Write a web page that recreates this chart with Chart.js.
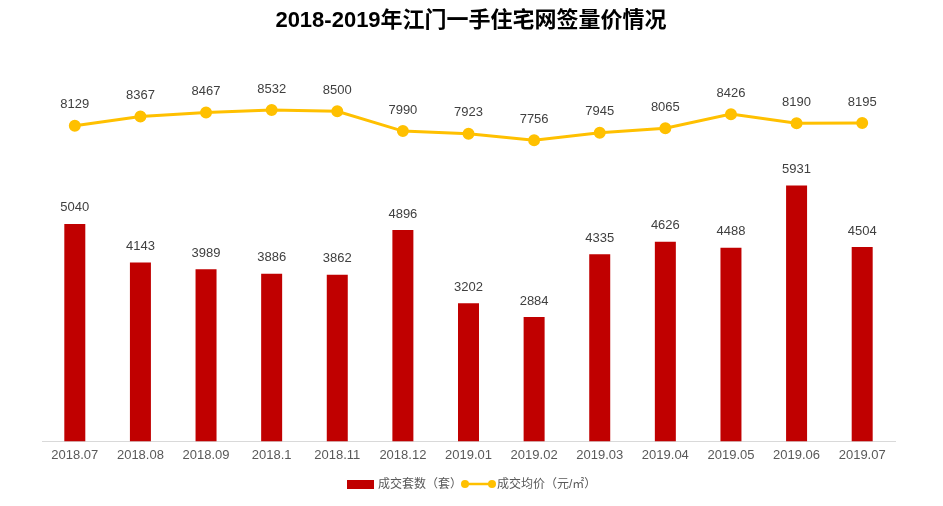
<!DOCTYPE html>
<html>
<head>
<meta charset="utf-8">
<script src="https://cdn.jsdelivr.net/npm/chart.js@4/dist/chart.umd.min.js"></script>
<style>
  html, body { margin: 0; padding: 0; background: #fff; }
  #wrap { width: 943px; height: 506px; }
</style>
</head>
<body>
<div id="wrap"><canvas id="grafico" width="943" height="506"></canvas></div>
<script>
  const meses = ["2018.07", "2018.08", "2018.09", "2018.1", "2018.11", "2018.12", "2019.01", "2019.02", "2019.03", "2019.04", "2019.05", "2019.06", "2019.07"];
  const taoshu = [5040, 4143, 3989, 3886, 3862, 4896, 3202, 2884, 4335, 4626, 4488, 5931, 4504];
  const junjia = [8129, 8367, 8467, 8532, 8500, 7990, 7923, 7756, 7945, 8065, 8426, 8190, 8195];

  const fonteNum = '"Liberation Sans", Arial, sans-serif';
  const fonteCJK = '"Liberation Sans", "Noto Sans CJK SC", sans-serif';

  // rótulos de valor, título e legenda desenhados à mão
  const extras = {
    id: "extras",
    afterDatasetsDraw(chart) {
      const ctx = chart.ctx;
      ctx.save();
      ctx.font = "13px " + fonteNum;
      ctx.fillStyle = "#404040";
      ctx.textAlign = "center";
      ctx.textBaseline = "middle";
      chart.getDatasetMeta(0).data.forEach((el, i) => {
        ctx.fillText(taoshu[i], el.x, el.y - 16);
      });
      chart.getDatasetMeta(1).data.forEach((el, i) => {
        ctx.fillText(junjia[i], el.x, el.y - 21);
      });

      // título
      ctx.font = "bold 22px " + fonteCJK;
      ctx.fillStyle = "#000";
      ctx.fillText("2018-2019年江门一手住宅网签量价情况", 471, 21);

      // legenda
      ctx.fillStyle = "#C00000";
      ctx.fillRect(347, 480, 27, 9);
      ctx.font = "12px " + fonteCJK;
      ctx.fillStyle = "#595959";
      ctx.textAlign = "left";
      ctx.fillText("成交套数（套）", 378, 485);
      ctx.strokeStyle = "#FFC000";
      ctx.lineWidth = 2.5;
      ctx.beginPath();
      ctx.moveTo(465, 484);
      ctx.lineTo(492, 484);
      ctx.stroke();
      ctx.fillStyle = "#FFC000";
      [465, 492].forEach(x => {
        ctx.beginPath();
        ctx.arc(x, 484, 4, 0, Math.PI * 2);
        ctx.fill();
      });
      ctx.fillStyle = "#595959";
      ctx.fillText("成交均价（元/㎡）", 497, 485);
      ctx.restore();
    }
  };

  new Chart(document.getElementById("grafico"), {
    data: {
      labels: meses,
      datasets: [
        {
          type: "bar",
          label: "成交套数（套）",
          data: taoshu,
          backgroundColor: "#C00000",
          barPercentage: 0.32,
          categoryPercentage: 1,
          yAxisID: "y",
          order: 2
        },
        {
          type: "line",
          label: "成交均价（元/㎡）",
          data: junjia,
          borderColor: "#FFC000",
          backgroundColor: "#FFC000",
          borderWidth: 3,
          pointRadius: 4.5,
          pointHoverRadius: 4.5,
          tension: 0,
          yAxisID: "y2",
          order: 1
        }
      ]
    },
    options: {
      responsive: false,
      animation: false,
      layout: { padding: { top: 53, left: 42, right: 48, bottom: 45 } },
      plugins: {
        legend: { display: false },
        title: { display: false },
        tooltip: { enabled: false }
      },
      scales: {
        x: {
          grid: { display: false },
          border: { display: true, color: "#D9D9D9" },
          ticks: {
            color: "#595959",
            font: { family: fonteNum, size: 13 },
            padding: -2,
            maxRotation: 0,
            autoSkip: false
          }
        },
        y: { display: false, min: 0, max: 9000 },
        y2: { display: false, min: 0, max: 10000, position: "right" }
      }
    },
    plugins: [extras]
  });
</script>
</body>
</html>
